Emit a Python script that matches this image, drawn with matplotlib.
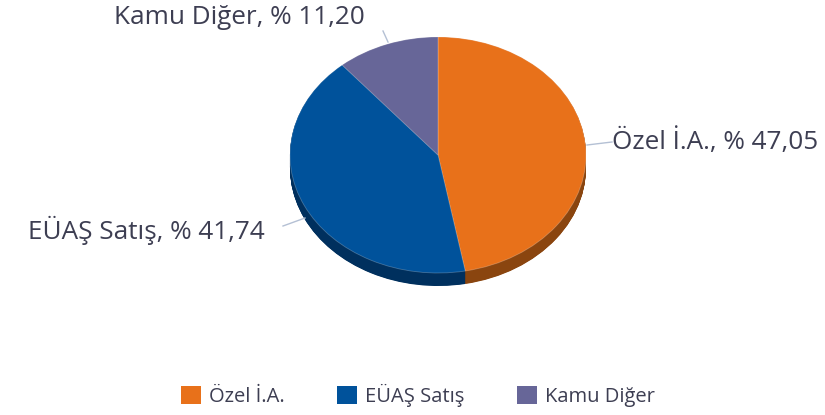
import matplotlib
matplotlib.use("Agg")
import matplotlib.pyplot as plt
from matplotlib.patches import Patch

# data
labels = ["Özel İ.A.", "EÜAŞ Satış", "Kamu Diğer"]
shares = [47.05, 41.74, 11.20]
top_colors = ["#E8711A", "#00529B", "#676698"]
side_colors = ["#8A450F", "#00305E", "#3E3D62"]

W, H = 825, 415
fig = plt.figure(figsize=(W / 100, H / 100), dpi=100)

# pie geometry in pixels (top surface ellipse)
cx, cy, rx, ry, depth = 438, 155, 148, 118, 13
ax = fig.add_axes([(cx - rx) / W, (H - cy - ry) / H, 2 * rx / W, 2 * ry / H])

# side of the disc: stack darker pies going down
steps = 30
for i in range(steps, 0, -1):
    off = -depth / ry * i / steps
    ax.pie(shares, colors=side_colors, startangle=90, counterclock=False,
           center=(0, off), radius=1, wedgeprops=dict(linewidth=0, clip_on=False))
# top surface
ax.pie(shares, colors=top_colors, startangle=90, counterclock=False,
       radius=1, wedgeprops=dict(linewidth=0.6, edgecolor="#ffffff40", clip_on=False))
ax.set_aspect("auto")
ax.set_xlim(-1, 1)
ax.set_ylim(-1, 1)
ax.axis("off")

txt_color = "#3D3E52"
line_color = "#B4C0D4"
font = "Open Sans"
fs = 18.8


def px(x, y):
    return x / W, 1 - y / H


def fmt(v):
    return f"{v:.2f}".replace(".", ",")


# data labels with leader lines
lab_pos = [
    (612, 142, "left", [(587, 145), (612, 142)]),
    (265, 230, "right", [(305, 218), (283, 226)]),
    (365, 17, "right", [(388, 42), (383, 31)]),
]
for (lx, ly, ha, pts), name, v in zip(lab_pos, labels, shares):
    fig.text(*px(lx, ly), f"{name}, % {fmt(v)}", ha=ha, va="center",
             fontsize=fs, color=txt_color, family=font)
    (x0, y0), (x1, y1) = pts
    fig.add_artist(plt.Line2D([x0 / W, x1 / W], [1 - y0 / H, 1 - y1 / H],
                              color=line_color, lw=1))

handles = [Patch(facecolor=c, edgecolor="none") for c in top_colors]
fig.legend(handles, labels, loc="center", bbox_to_anchor=px(418, 395),
           ncol=3, frameon=False, prop=dict(family=font, size=14.5),
           handlelength=1.0, handleheight=1.0, handletextpad=0.4,
           columnspacing=2.6, labelcolor=txt_color)

fig.savefig("out.png", dpi=100)
